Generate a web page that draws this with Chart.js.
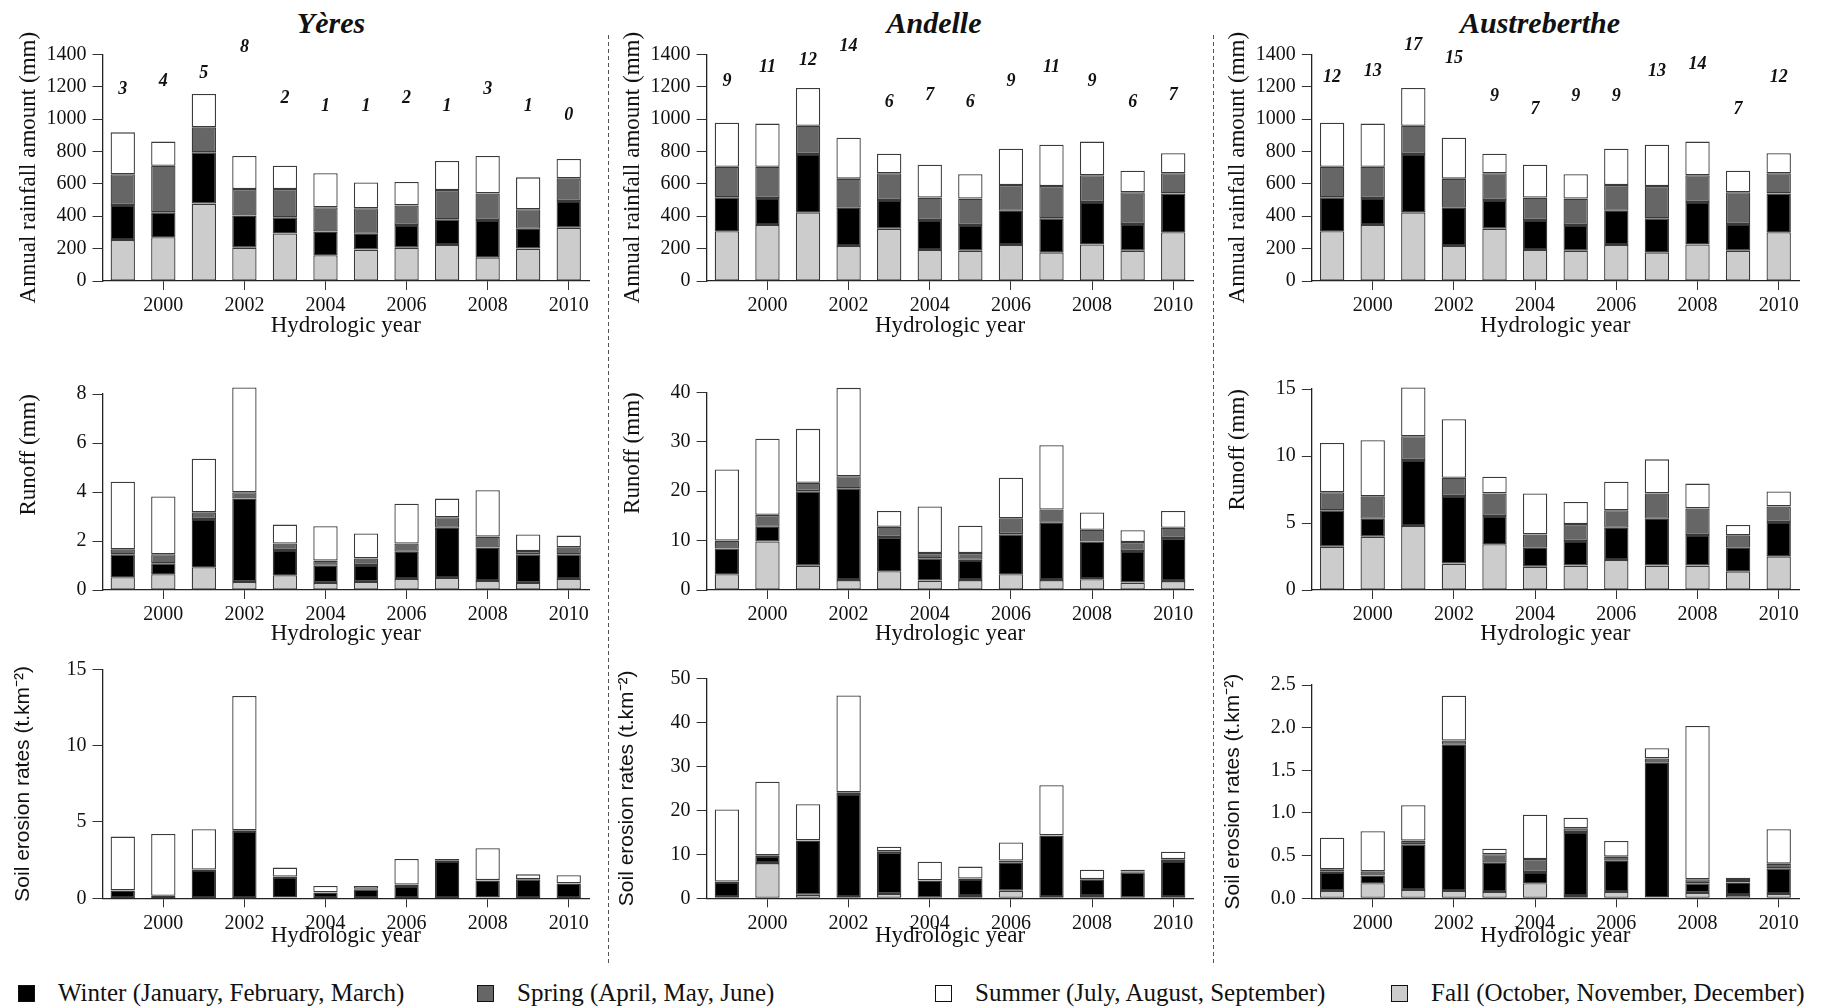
<!DOCTYPE html>
<html>
<head>
<meta charset="utf-8">
<script src="https://cdn.jsdelivr.net/npm/chart.js@4.4.0/dist/chart.umd.min.js"></script>
<style>
  body { margin: 0; background: #fff; width: 1829px; height: 1008px; position: relative; overflow: hidden; font-family: "Liberation Serif", serif; color: #111; }
  canvas { position: absolute; }
  .station { position: absolute; top: 23px; transform: translate(-50%, -50%); font: bold italic 30px "Liberation Serif", serif; white-space: nowrap; }
  .sep { position: absolute; top: 35px; height: 930px; width: 1px; background: repeating-linear-gradient(to bottom, #555 0 4px, transparent 4px 7px); }
  .key { position: absolute; top: 993px; transform: translateY(-50%); font-size: 25px; white-space: nowrap; display: flex; align-items: center; }
  .key i { display: inline-block; width: 15px; height: 15px; border: 1.5px solid #111; margin-right: 23px; }
</style>
</head>
<body>
<div class="station" style="left:331px">Yères</div>
<div class="station" style="left:934px">Andelle</div>
<div class="station" style="left:1540px">Austreberthe</div>
<div class="sep" style="left:608px"></div>
<div class="sep" style="left:1213px"></div>
<div class="key" style="left:18px"><i style="background:#000"></i>Winter (January, February, March)</div>
<div class="key" style="left:477px"><i style="background:#666"></i>Spring (April, May, June)</div>
<div class="key" style="left:935px"><i style="background:#fff"></i>Summer (July, August, September)</div>
<div class="key" style="left:1391px"><i style="background:#ccc"></i>Fall (October, November, December)</div>
<script>
// hydrologic years
const years = ['1999', '2000', '2001', '2002', '2003', '2004', '2005', '2006', '2007', '2008', '2009', '2010'];
const tickYears = ['2000', '2002', '2004', '2006', '2008', '2010'];

// Yères
const yeresRainFall = [253, 270, 478, 206, 294, 159, 194, 206, 222, 146, 200, 329];
const yeresRainWinter = [216, 154, 317, 198, 99, 146, 98, 140, 159, 231, 123, 165];
const yeresRainSpring = [190, 288, 154, 164, 175, 150, 157, 121, 181, 164, 120, 140];
const yeresRainSummer = [259, 149, 206, 204, 144, 210, 160, 144, 179, 231, 197, 119];
const yeresCounts = [3, 4, 5, 8, 2, 1, 1, 2, 1, 3, 1, 0];

const yeresRunFall = [0.52, 0.64, 0.93, 0.33, 0.60, 0.29, 0.33, 0.45, 0.49, 0.37, 0.29, 0.45];
const yeresRunWinter = [0.94, 0.45, 1.97, 3.40, 1.03, 0.70, 0.69, 1.11, 2.05, 1.36, 1.17, 1.01];
const yeresRunSpring = [0.20, 0.37, 0.27, 0.26, 0.27, 0.21, 0.27, 0.34, 0.43, 0.45, 0.13, 0.28];
const yeresRunSummer = [2.76, 2.36, 2.19, 4.28, 0.77, 1.40, 1.02, 1.62, 0.76, 1.89, 0.68, 0.48];

const yeresEroFall = [0.02, 0.02, 0.02, 0.02, 0.07, 0.01, 0.01, 0.02, 0.02, 0.07, 0.01, 0.02];
const yeresEroWinter = [0.48, 0.13, 1.84, 4.39, 1.33, 0.36, 0.58, 0.79, 2.43, 1.09, 1.23, 0.94];
const yeresEroSpring = [0.03, 0.02, 0.03, 0.05, 0.02, 0.02, 0.03, 0.09, 0.05, 0.03, 0.02, 0.02];
const yeresEroSummer = [3.51, 4.04, 2.63, 8.79, 0.59, 0.42, 0.19, 1.68, 0.08, 2.09, 0.31, 0.53];

// Andelle
const andelleRainFall = [307, 346, 424, 216, 323, 191, 187, 222, 177, 226, 187, 301];
const andelleRainWinter = [210, 167, 360, 237, 177, 186, 159, 212, 210, 262, 165, 240];
const andelleRainSpring = [189, 193, 175, 179, 165, 138, 163, 159, 200, 165, 196, 124];
const andelleRainSummer = [272, 266, 233, 253, 121, 203, 150, 224, 255, 208, 133, 124];
const andelleCounts = [9, 11, 12, 14, 6, 7, 6, 9, 11, 9, 6, 7];

const andelleRunFall = [3.2, 9.8, 4.9, 2.0, 3.8, 1.9, 2.0, 3.2, 2.0, 2.2, 1.5, 1.8];
const andelleRunWinter = [5.2, 3.0, 15.1, 18.6, 6.9, 4.5, 4.1, 8.1, 11.6, 7.6, 6.4, 8.7];
const andelleRunSpring = [1.6, 2.4, 1.7, 2.4, 2.1, 1.1, 1.4, 3.2, 2.7, 2.4, 1.8, 2.1];
const andelleRunSummer = [14.4, 15.4, 10.9, 17.9, 3.2, 9.4, 5.5, 8.2, 13.0, 3.5, 2.4, 3.4];

const andelleEroFall = [0.3, 8.0, 0.8, 0.3, 1.0, 0.1, 0.5, 1.7, 0.3, 0.5, 0.1, 0.3];
const andelleEroWinter = [3.4, 1.6, 12.3, 23.4, 9.5, 3.9, 3.9, 6.4, 13.9, 3.7, 5.8, 8.2];
const andelleEroSpring = [0.1, 0.2, 0.1, 0.4, 0.2, 0.1, 0.1, 0.5, 0.1, 0.2, 0.2, 0.4];
const andelleEroSummer = [16.4, 16.7, 8.2, 22.0, 1.0, 4.2, 2.7, 4.1, 11.4, 2.1, 0.4, 1.7];

// Austreberthe
const austreRainFall = [307, 346, 424, 216, 323, 191, 187, 222, 177, 226, 187, 301];
const austreRainWinter = [210, 167, 360, 237, 177, 186, 159, 212, 210, 262, 165, 240];
const austreRainSpring = [189, 193, 175, 179, 165, 138, 163, 159, 200, 165, 196, 124];
const austreRainSummer = [272, 266, 233, 253, 121, 203, 150, 224, 255, 208, 133, 124];
const austreCounts = [12, 13, 17, 15, 9, 7, 9, 9, 13, 14, 7, 12];

const austreRunFall = [3.23, 3.98, 4.78, 1.97, 3.41, 1.74, 1.82, 2.24, 1.82, 1.82, 1.39, 2.51];
const austreRunWinter = [2.72, 1.34, 4.92, 5.04, 2.11, 1.42, 1.84, 2.41, 3.50, 2.28, 1.77, 2.56];
const austreRunSpring = [1.34, 1.67, 1.77, 1.37, 1.69, 0.99, 1.27, 1.30, 1.89, 1.99, 0.92, 1.17];
const austreRunSummer = [3.68, 4.18, 3.65, 4.36, 1.25, 3.06, 1.64, 2.13, 2.54, 1.85, 0.77, 1.12];

const austreEroFall = [0.086, 0.176, 0.098, 0.086, 0.074, 0.176, 0.027, 0.074, 0.012, 0.063, 0.039, 0.051];
const austreEroWinter = [0.224, 0.090, 0.535, 1.714, 0.344, 0.133, 0.750, 0.367, 1.578, 0.113, 0.145, 0.301];
const austreEroSpring = [0.030, 0.050, 0.043, 0.050, 0.098, 0.152, 0.043, 0.047, 0.050, 0.047, 0.031, 0.054];
const austreEroSummer = [0.370, 0.469, 0.414, 0.525, 0.066, 0.519, 0.125, 0.184, 0.120, 1.797, 0.027, 0.403];

// seasons, stacked from the bottom
const seasonNames = ['Fall', 'Winter', 'Spring', 'Summer'];
const seasonColors = ['#cccccc', '#000000', '#666666', '#ffffff'];

// page layout (px)
const colLeft = [0, 608, 1213];
const canvasW = 605;
const plotLeft = [102.5, 706.6, 1311.8];
const plotRight = [589, 1193.5, 1799];
const rowTop = [28, 370, 650];
const rowBottom = [340, 648, 950];
const axisBase = [281, 590, 898.3];
const plotTop = [[54.3, 54.3, 54.3], [394, 392.3, 389], [669.3, 678.3, 685]];
const yTitleX = [[29, 633, 1237.5], [29, 633.4, 1237.5], [23.4, 627.5, 1233.6]];

const serif = '"Liberation Serif", serif';
Chart.defaults.font.family = serif;
Chart.defaults.color = '#111';

// bold italic counts above the rainfall bars
const countLabels = {
    id: 'countLabels',
    afterDatasetsDraw(chart) {
        const ctx = chart.ctx;
        chart.data.datasets.forEach((ds, di) => {
            if (!ds.isCount) return;
            const meta = chart.getDatasetMeta(di);
            ctx.save();
            ctx.font = 'bold italic 18px ' + serif;
            ctx.fillStyle = '#111';
            ctx.textAlign = 'center';
            ctx.textBaseline = 'middle';
            meta.data.forEach((pt, i) => ctx.fillText(String(ds.data[i]), pt.x, pt.y));
            ctx.restore();
        });
    }
};

const rainTitle = 'Annual rainfall amount (mm)';
const runTitle = 'Runoff (mm)';
const eroTitle = 'Soil erosion rates (t.km\u207B\u00B2)';

const panels = [
    { row: 0, col: 0, sets: [yeresRainFall, yeresRainWinter, yeresRainSpring, yeresRainSummer], max: 1400, step: 200, title: rainTitle, counts: yeresCounts, countRange: [-19.67, 7.20] },
    { row: 0, col: 1, sets: [andelleRainFall, andelleRainWinter, andelleRainSpring, andelleRainSummer], max: 1400, step: 200, title: rainTitle, counts: andelleCounts, countRange: [-19.46, 12.91] },
    { row: 0, col: 2, sets: [austreRainFall, austreRainWinter, austreRainSpring, austreRainSummer], max: 1400, step: 200, title: rainTitle, counts: austreCounts, countRange: [-19.97, 15.65] },
    { row: 1, col: 0, sets: [yeresRunFall, yeresRunWinter, yeresRunSpring, yeresRunSummer], max: 8, step: 2, title: runTitle },
    { row: 1, col: 1, sets: [andelleRunFall, andelleRunWinter, andelleRunSpring, andelleRunSummer], max: 40, step: 10, title: runTitle },
    { row: 1, col: 2, sets: [austreRunFall, austreRunWinter, austreRunSpring, austreRunSummer], max: 15, step: 5, title: runTitle },
    { row: 2, col: 0, sets: [yeresEroFall, yeresEroWinter, yeresEroSpring, yeresEroSummer], max: 15, step: 5, title: eroTitle },
    { row: 2, col: 1, sets: [andelleEroFall, andelleEroWinter, andelleEroSpring, andelleEroSummer], max: 50, step: 10, title: eroTitle },
    { row: 2, col: 2, sets: [austreEroFall, austreEroWinter, austreEroSpring, austreEroSummer], max: 2.5, step: 0.5, decimals: 1, title: eroTitle }
];

panels.forEach(p => {
    const left = colLeft[p.col];
    const top = rowTop[p.row];
    const h = rowBottom[p.row] - top;
    const cv = document.createElement('canvas');
    cv.width = canvasW;
    cv.height = h;
    cv.style.left = left + 'px';
    cv.style.top = top + 'px';
    cv.style.width = canvasW + 'px';
    cv.style.height = h + 'px';
    document.body.appendChild(cv);

    const datasets = p.sets.map((d, k) => ({
        type: 'bar',
        label: seasonNames[k],
        data: d,
        backgroundColor: seasonColors[k],
        borderColor: '#3a3a3a',
        borderWidth: 1.3,
        borderSkipped: false,
        barPercentage: 0.6,
        categoryPercentage: 1,
        clip: false,
        yAxisID: 'y'
    }));

    const sans = p.row === 2;
    const yFont = sans ? { size: 21, family: '"Liberation Sans", sans-serif' } : { size: 23, family: serif };
    const yLine = yFont.size * 1.2;

    const scales = {
        x: {
            stacked: true,
            offset: true,
            grid: {
                drawOnChartArea: false,
                offset: false,
                tickLength: 9,
                color: c => tickYears.includes(years[c.index]) ? '#333' : 'rgba(0,0,0,0)'
            },
            border: { color: '#222', width: 1.3 },
            ticks: {
                autoSkip: false,
                maxRotation: 0,
                padding: 4,
                font: { size: 20 },
                callback: (v, i) => tickYears.includes(years[i]) ? years[i] : ''
            },
            title: { display: true, text: 'Hydrologic year', font: { size: 23 }, padding: { top: 0, bottom: 0 } },
            afterFit: s => { s.height = rowBottom[p.row] - axisBase[p.row]; }
        },
        y: {
            stacked: true,
            min: 0,
            max: p.max,
            grid: { drawOnChartArea: false, tickLength: 10, color: '#333' },
            border: { color: '#222', width: 1.3 },
            ticks: {
                stepSize: p.step,
                padding: 6,
                font: { size: 20 },
                callback: v => p.decimals ? v.toFixed(p.decimals) : String(v)
            },
            title: {
                display: true,
                text: p.title,
                align: p.row === 1 ? 'end' : 'center',
                font: yFont,
                padding: { top: yTitleX[p.row][p.col] - left - yLine / 2, bottom: 0 }
            },
            afterFit: s => { s.width = plotLeft[p.col] - left; }
        }
    };

    if (p.counts) {
        datasets.push({
            type: 'line',
            isCount: true,
            data: p.counts,
            yAxisID: 'yN',
            showLine: false,
            pointRadius: 0
        });
        scales.yN = { display: false, min: p.countRange[0], max: p.countRange[1] };
    }

    new Chart(cv, {
        type: 'bar',
        data: { labels: years, datasets },
        options: {
            responsive: false,
            animation: false,
            devicePixelRatio: 1,
            layout: {
                padding: {
                    left: 0,
                    top: plotTop[p.row][p.col] - top,
                    right: left + canvasW - plotRight[p.col],
                    bottom: 0
                }
            },
            plugins: { legend: { display: false }, tooltip: { enabled: false } },
            scales
        },
        plugins: [countLabels]
    });
});
</script>
</body>
</html>
